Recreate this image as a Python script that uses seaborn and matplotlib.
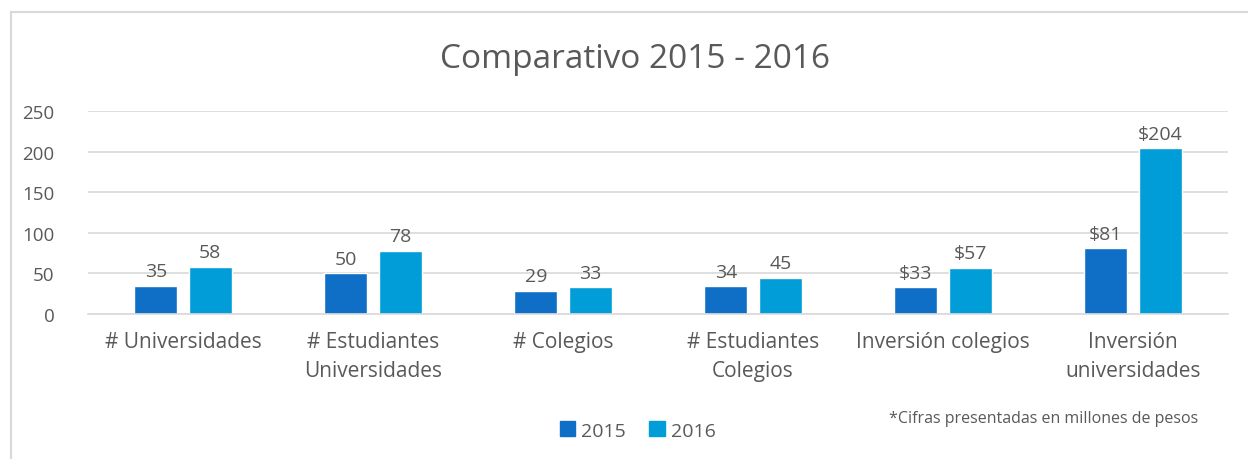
import pandas as pd
import seaborn as sns
import matplotlib.pyplot as plt
from matplotlib.patches import Rectangle

categories = ['# Universidades', '# Estudiantes\nUniversidades', '# Colegios',
              '# Estudiantes\nColegios', 'Inversión colegios', 'Inversión\nuniversidades']
values_2015 = [35, 50, 29, 34, 33, 81]
values_2016 = [58, 78, 33, 45, 57, 204]
labels_2015 = ['35', '50', '29', '34', '$33', '$81']
labels_2016 = ['58', '78', '33', '45', '$57', '$204']
years = ['2015', '2016']
colors = ['#0F6FC6', '#009DD9']

df = pd.DataFrame({
    'cat': categories * 2,
    'val': values_2015 + values_2016,
    'year': [years[0]] * len(categories) + [years[1]] * len(categories),
})

sns.set_style('white')
plt.rcParams['font.family'] = ['Open Sans', 'DejaVu Sans']
text_color = '#595959'

fig = plt.figure(figsize=(12.48, 4.6), dpi=100)
ax = fig.add_axes([0.0705, 0.315, 0.9135, 0.4415])

sns.barplot(data=df, x='cat', y='val', hue='year', palette=colors, saturation=1,
            width=0.574, gap=0.21, ax=ax, legend=False)

for cont, labs in zip(ax.containers, [labels_2015, labels_2016]):
    ax.bar_label(cont, labels=labs, padding=4, fontsize=14, color=text_color)

ax.set_ylim(0, 250)
ax.set_yticks(range(0, 251, 50))
ax.yaxis.grid(True, color='#D9D9D9', linewidth=1.2)
ax.set_axisbelow(True)
for s in ['left', 'right', 'top']:
    ax.spines[s].set_visible(False)
ax.spines['bottom'].set_color('#D9D9D9')
ax.spines['bottom'].set_linewidth(1.2)
ax.tick_params(axis='y', length=0, pad=24, labelsize=13.5, labelcolor=text_color)
ax.tick_params(axis='x', length=0, pad=12, labelsize=15, labelcolor=text_color)
for lab in ax.get_xticklabels():
    lab.set_linespacing(1.5)
ax.set_xlabel('')
ax.set_ylabel('')

fig.text(0.509, 0.87, 'Comparativo 2015 - 2016', ha='center', va='center',
         fontsize=24, color=text_color)
fig.text(0.836, 0.09, '*Cifras presentadas en millones de pesos', ha='center',
         va='center', fontsize=11.5, color=text_color)

handles = [Rectangle((0, 0), 1, 1, color=c) for c in colors]
fig.legend(handles, years, loc='center', bbox_to_anchor=(0.511, 0.062), ncol=2,
           frameon=False, fontsize=14, handlelength=0.8, handleheight=0.8,
           handletextpad=0.3, columnspacing=1.2, labelcolor=text_color)

fig.patches.append(Rectangle((11 / 1248, -0.1), 1.2, 0.1 + 1 - 13 / 460,
                             transform=fig.transFigure, fill=False,
                             edgecolor='#D9D9D9', linewidth=1.5))

fig.savefig('out.png', dpi=100, facecolor='white')
